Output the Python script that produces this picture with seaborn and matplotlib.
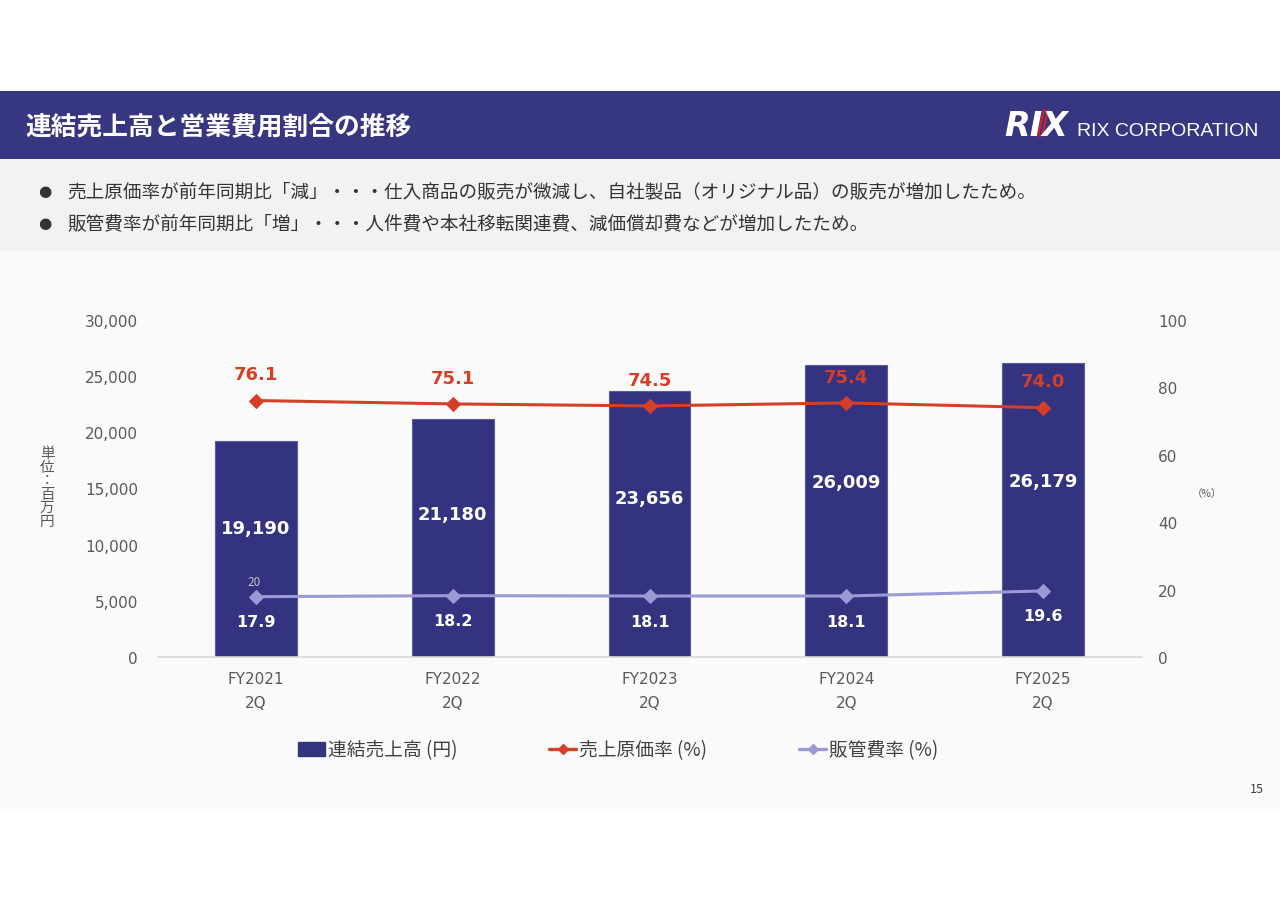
import numpy as np
import pandas as pd
import matplotlib
matplotlib.use("Agg")
import matplotlib.pyplot as plt
import seaborn as sns
from matplotlib.lines import Line2D
from matplotlib.patches import Patch, Rectangle
from matplotlib.ticker import FuncFormatter

# ---------------- data ----------------
categories = ["FY2021\n2Q", "FY2022\n2Q", "FY2023\n2Q", "FY2024\n2Q", "FY2025\n2Q"]
sales = [19190, 21180, 23656, 26009, 26179]          # 連結売上高 (百万円)
cogs_ratio = [76.1, 75.1, 74.5, 75.4, 74.0]          # 売上原価率 (%)
sga_ratio = [17.9, 18.2, 18.1, 18.1, 19.6]           # 販管費率 (%)
left_ticks = [0, 5000, 10000, 15000, 20000, 25000, 30000]
right_ticks = [0, 20, 40, 60, 80, 100]
legend_labels = ["連結売上高 (円)", "売上原価率 (%)", "販管費率 (%)"]
title = "連結売上高と営業費用割合の推移"
bullets = [
    "売上原価率が前年同期比「減」・・・仕入商品の販売が微減し、自社製品（オリジナル品）の販売が増加したため。",
    "販管費率が前年同期比「増」・・・人件費や本社移転関連費、減価償却費などが増加したため。",
]
y_label = "単位：百万円"
page_no = "15"

# ---------------- style ----------------
sns.set_theme(style="white")
plt.rcParams["font.family"] = ["Noto Sans CJK JP", "DejaVu Sans"]

BAR = "#333380"
RED = "#d63f27"
LAV = "#9a9ad4"
TXT = "#595959"
W, H = 1280, 904

def fx(px):
    return px / W

def fy(py):
    return 1 - py / H

fig = plt.figure(figsize=(12.8, 9.04), dpi=100)
fig.patch.set_facecolor("white")

# page bands (behind everything)
fig.patches.append(Rectangle((0, fy(812)), 1, (812 - 252) / H, transform=fig.transFigure,
                             facecolor="#fafafa", edgecolor="none", zorder=-5))
fig.patches.append(Rectangle((0, fy(252)), 1, (252 - 160) / H, transform=fig.transFigure,
                             facecolor="#f2f2f2", edgecolor="none", zorder=-5))
fig.patches.append(Rectangle((0, fy(160)), 1, (160 - 92) / H, transform=fig.transFigure,
                             facecolor="#373781", edgecolor="none", zorder=-5))

# header
fig.text(fx(25), fy(127), title, color="white", fontsize=18.5, fontweight="bold",
         va="center", ha="left")
fig.text(fx(1004), fy(127), "RIX", color="white", fontsize=24, fontweight="heavy",
         fontstyle="italic", family=["DejaVu Sans"], va="center", ha="left")
fig.add_artist(Line2D([fx(1038), fx(1044)], [fy(137), fy(111)], color="#d0202a", lw=1.6,
                      transform=fig.transFigure))
fig.add_artist(Line2D([fx(1042), fx(1048)], [fy(137), fy(111)], color="#d0202a", lw=1.6,
                      transform=fig.transFigure))
fig.text(fx(1077), fy(132), "RIX CORPORATION", color="white", fontsize=14,
         family=["Liberation Sans"], va="center", ha="left")

# bullets
for i, b in enumerate(bullets):
    yy = fy(192 + 32 * i)
    fig.text(fx(45), yy, "●", color="#333333", fontsize=11, va="center", ha="center",
             family=["DejaVu Sans"])
    fig.text(fx(67), yy, b, color="#333333", fontsize=13.4, va="center", ha="left")

# ---------------- chart ----------------
df = pd.DataFrame({"cat": categories, "sales": sales, "cogs": cogs_ratio, "sga": sga_ratio})
df["pos"] = np.arange(len(df))

ax = fig.add_axes([fx(157.5), fy(658), fx(1141.5) - fx(157.5), (658 - 321) / H])
ax.set_facecolor("none")
sns.barplot(data=df, x="cat", y="sales", color=BAR, saturation=1, width=0.416,
            edgecolor="#5a5aa0", linewidth=0.8, ax=ax, zorder=2)
ax.set_ylim(0, 30000)
ax.set_xlim(-0.5, len(df) - 0.5)
ax.set_yticks(left_ticks)
ax.yaxis.set_major_formatter(FuncFormatter(lambda v, p: f"{int(v):,}"))
ax.set_xlabel("")
ax.set_ylabel("")
for s in ["top", "right", "left"]:
    ax.spines[s].set_visible(False)
ax.spines["bottom"].set_color("#d9d9d9")
ax.spines["bottom"].set_linewidth(1.2)
ax.tick_params(axis="y", length=0, pad=14, labelsize=11, labelcolor=TXT)
ax.tick_params(axis="x", length=0, pad=10, labelsize=11, labelcolor=TXT)
for lab in ax.get_xticklabels() + ax.get_yticklabels():
    lab.set_family(["DejaVu Sans"])
for lab in ax.get_xticklabels():
    lab.set_linespacing(1.75)

for i, v in enumerate(df["sales"]):
    ax.text(i, v * 0.6, f"{v:,}", color="white", fontsize=13, fontweight="bold",
            ha="center", va="center", zorder=5, family=["DejaVu Sans"])

ax2 = ax.twinx()
ax2.set_facecolor("none")
sns.lineplot(data=df, x="pos", y="cogs", color=RED, marker="D", markersize=7,
             markeredgecolor=RED, linewidth=2.2, ax=ax2, zorder=4)
sns.lineplot(data=df, x="pos", y="sga", color=LAV, marker="D", markersize=7,
             markeredgecolor=LAV, linewidth=2.2, ax=ax2, zorder=4)
ax2.set_ylim(0, 100)
ax2.set_xlim(-0.5, len(df) - 0.5)
ax2.set_yticks(right_ticks)
ax2.set_xlabel("")
ax2.set_ylabel("")
for s in ["top", "right", "left", "bottom"]:
    ax2.spines[s].set_visible(False)
ax2.tick_params(axis="y", length=0, pad=12, labelsize=11, labelcolor=TXT)
for lab in ax2.get_yticklabels():
    lab.set_family(["DejaVu Sans"])

for i, v in enumerate(df["cogs"]):
    ax2.annotate(f"{v:.1f}", (i, v), xytext=(0, 19), textcoords="offset points",
                 ha="center", va="center", color=RED, fontsize=13, fontweight="bold",
                 family=["DejaVu Sans"])
for i, v in enumerate(df["sga"]):
    ax2.annotate(f"{v:.1f}", (i, v), xytext=(0, -18), textcoords="offset points",
                 ha="center", va="center", color="white", fontsize=11.5, fontweight="bold",
                 family=["DejaVu Sans"])
ax2.annotate("20", (0, df["sga"][0]), xytext=(-1, 11), textcoords="offset points",
             ha="center", va="center", color="#c4c4c4", fontsize=8.5)

# axis annotations
fig.text(fx(47), fy(488), "\n".join(y_label), color=TXT, fontsize=10.5, ha="center",
         va="center", linespacing=0.95)
fig.text(fx(1207), fy(494), "（%）", color=TXT, fontsize=7.5, ha="center", va="center")

# legend
handles = [
    Patch(facecolor=BAR, edgecolor=BAR),
    Line2D([0], [0], color=RED, lw=2.4, marker="D", markersize=5),
    Line2D([0], [0], color=LAV, lw=2.4, marker="D", markersize=5),
]
fig.legend(handles, legend_labels, loc="center left", bbox_to_anchor=(fx(281), fy(751)),
           ncol=3, frameon=False, fontsize=13.5, handlelength=1.45, handleheight=0.7,
           handletextpad=0.15, columnspacing=4.9, labelcolor="#404040")

fig.text(fx(1257), fy(790), page_no, color="#404040", fontsize=9, ha="center", va="center")

fig.savefig("out.png", dpi=100, facecolor=fig.get_facecolor())
